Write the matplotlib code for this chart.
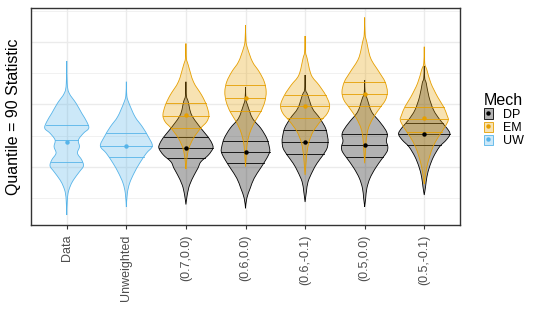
import numpy as np
import matplotlib.pyplot as plt
from matplotlib.patches import Patch, PathPatch
from matplotlib.path import Path
from matplotlib.lines import Line2D
from matplotlib.legend_handler import HandlerTuple
from matplotlib.colors import to_rgba
import matplotlib.transforms as mtransforms

plt.rcParams['font.family'] = ['Liberation Sans', 'DejaVu Sans']

categories = ['Data', 'Unweighted', '(0.7,0.0)', '(0.6,0.0)', '(0.6,-0.1)', '(0.5,0.0)', '(0.5,-0.1)']
mechs = ['DP', 'EM', 'UW']
mech_colors = {'DP': '#000000', 'EM': '#E69F00', 'UW': '#56B4E9'}

# violin outlines: y value, half width (category units), top to bottom
data_y = [1.348, 1.168, 1.092, 1.010, 0.930, 0.862, 0.810, 0.770, 0.716, 0.662, 0.610, 0.556, 0.508, 0.462, 0.396, 0.342, 0.290, 0.220, 0.116]
data_w = [0, 0.008, 0.039, 0.156, 0.252, 0.336, 0.369, 0.280, 0.196, 0.213, 0.180, 0.252, 0.280, 0.213, 0.112, 0.055, 0.022, 0.008, 0]
unw_y = [1.182, 1.070, 1.010, 0.902, 0.822, 0.742, 0.668, 0.610, 0.530, 0.450, 0.370, 0.290, 0.180]
unw_w = [0, 0.008, 0.045, 0.146, 0.268, 0.369, 0.436, 0.336, 0.223, 0.129, 0.055, 0.017, 0]

p70_em_y = [1.488, 1.370, 1.316, 1.182, 1.076, 0.996, 0.916, 0.862, 0.810, 0.730, 0.650, 0.570, 0.484]
p70_em_w = [0, 0.008, 0.039, 0.126, 0.263, 0.344, 0.386, 0.349, 0.247, 0.126, 0.050, 0.017, 0]
p70_dp_y = [1.182, 1.070, 1.022, 0.916, 0.810, 0.742, 0.690, 0.650, 0.596, 0.542, 0.490, 0.436, 0.356, 0.276, 0.200]
p70_dp_w = [0, 0.008, 0.039, 0.096, 0.252, 0.369, 0.436, 0.453, 0.378, 0.252, 0.201, 0.139, 0.062, 0.022, 0]

p60_em_y = [1.636, 1.510, 1.450, 1.342, 1.262, 1.182, 1.102, 1.022, 0.942, 0.862, 0.782, 0.702, 0.622, 0.502]
p60_em_w = [0, 0.008, 0.034, 0.117, 0.230, 0.315, 0.347, 0.324, 0.257, 0.156, 0.079, 0.034, 0.017, 0]
p60_dp_y = [1.140, 1.040, 0.996, 0.890, 0.810, 0.730, 0.662, 0.622, 0.570, 0.490, 0.410, 0.330, 0.250, 0.170]
p60_dp_w = [0, 0.008, 0.034, 0.117, 0.257, 0.357, 0.399, 0.406, 0.357, 0.252, 0.146, 0.079, 0.022, 0]

p61_em_y = [1.548, 1.420, 1.370, 1.236, 1.156, 1.076, 0.996, 0.930, 0.862, 0.782, 0.702, 0.622, 0.542, 0.436]
p61_em_w = [0, 0.008, 0.034, 0.104, 0.232, 0.344, 0.411, 0.374, 0.252, 0.134, 0.067, 0.034, 0.017, 0]
p61_dp_y = [1.236, 1.120, 1.076, 0.970, 0.890, 0.810, 0.742, 0.702, 0.650, 0.596, 0.530, 0.462, 0.382, 0.302, 0.220]
p61_dp_w = [0, 0.008, 0.045, 0.122, 0.247, 0.344, 0.378, 0.386, 0.369, 0.302, 0.201, 0.122, 0.050, 0.022, 0]

p50_em_y = [1.696, 1.560, 1.502, 1.370, 1.262, 1.182, 1.102, 1.036, 0.970, 0.890, 0.810, 0.730, 0.650, 0.530]
p50_em_w = [0, 0.008, 0.034, 0.101, 0.240, 0.341, 0.381, 0.349, 0.252, 0.139, 0.062, 0.029, 0.017, 0]
p50_dp_y = [1.196, 1.090, 1.050, 0.942, 0.862, 0.796, 0.756, 0.708, 0.662, 0.622, 0.570, 0.490, 0.410, 0.330, 0.250, 0.182]
p50_dp_w = [0, 0.008, 0.039, 0.117, 0.252, 0.352, 0.381, 0.364, 0.389, 0.374, 0.297, 0.180, 0.089, 0.037, 0.017, 0]

p51_em_y = [1.462, 1.330, 1.276, 1.170, 1.062, 0.982, 0.916, 0.876, 0.822, 0.742, 0.662, 0.582, 0.502, 0.422, 0.364]
p51_em_w = [0, 0.008, 0.045, 0.112, 0.223, 0.324, 0.381, 0.403, 0.349, 0.238, 0.148, 0.089, 0.045, 0.017, 0]
p51_dp_y = [1.308, 1.210, 1.170, 1.062, 0.956, 0.876, 0.810, 0.764, 0.716, 0.662, 0.582, 0.502, 0.422, 0.342, 0.276]
p51_dp_w = [0, 0.008, 0.034, 0.079, 0.156, 0.265, 0.381, 0.431, 0.369, 0.257, 0.156, 0.089, 0.045, 0.022, 0]

# quartile lines (75%, 50%, 25%)
data_q = [0.834, 0.716, 0.538]
unw_q = [0.770, 0.670, 0.582]
p70_em_q = [1.010, 0.910, 0.814]
p70_dp_q = [0.740, 0.654, 0.570]
p60_em_q = [1.156, 1.054, 0.948]
p60_dp_q = [0.710, 0.622, 0.534]
p61_em_q = [1.076, 0.990, 0.890]
p61_dp_q = [0.794, 0.702, 0.606]
p50_em_q = [1.178, 1.084, 0.988]
p50_dp_q = [0.766, 0.676, 0.582]
p51_em_q = [0.982, 0.884, 0.782]
p51_dp_q = [0.850, 0.764, 0.676]

means = {
    ('Data', 'UW'): 0.700, ('Unweighted', 'UW'): 0.670,
    ('(0.7,0.0)', 'DP'): 0.654, ('(0.7,0.0)', 'EM'): 0.916,
    ('(0.6,0.0)', 'DP'): 0.622, ('(0.6,0.0)', 'EM'): 1.054,
    ('(0.6,-0.1)', 'DP'): 0.702, ('(0.6,-0.1)', 'EM'): 0.990,
    ('(0.5,0.0)', 'DP'): 0.676, ('(0.5,0.0)', 'EM'): 1.084,
    ('(0.5,-0.1)', 'DP'): 0.764, ('(0.5,-0.1)', 'EM'): 0.888,
}

violins = [
    ('(0.7,0.0)', 'DP', p70_dp_y, p70_dp_w, p70_dp_q),
    ('(0.6,0.0)', 'DP', p60_dp_y, p60_dp_w, p60_dp_q),
    ('(0.6,-0.1)', 'DP', p61_dp_y, p61_dp_w, p61_dp_q),
    ('(0.5,0.0)', 'DP', p50_dp_y, p50_dp_w, p50_dp_q),
    ('(0.5,-0.1)', 'DP', p51_dp_y, p51_dp_w, p51_dp_q),
    ('(0.7,0.0)', 'EM', p70_em_y, p70_em_w, p70_em_q),
    ('(0.6,0.0)', 'EM', p60_em_y, p60_em_w, p60_em_q),
    ('(0.6,-0.1)', 'EM', p61_em_y, p61_em_w, p61_em_q),
    ('(0.5,0.0)', 'EM', p50_em_y, p50_em_w, p50_em_q),
    ('(0.5,-0.1)', 'EM', p51_em_y, p51_em_w, p51_em_q),
    ('Data', 'UW', data_y, data_w, data_q),
    ('Unweighted', 'UW', unw_y, unw_w, unw_q),
]


def bezier_side(pts):
    # smooth curve through the outline points (Catmull-Rom as cubic Bezier)
    n = len(pts)
    verts, codes = [], []
    for i in range(n - 1):
        p0 = pts[i - 1] if i > 0 else pts[i]
        p1, p2 = pts[i], pts[i + 1]
        p3 = pts[i + 2] if i + 2 < n else pts[i + 1]
        verts += [p1 + (p2 - p0) / 6, p2 - (p3 - p1) / 6, p2]
        codes += [Path.CURVE4] * 3
    return verts, codes


def violin_path(c, ys, ws):
    right = np.column_stack([c + ws, ys])
    left = np.column_stack([c - ws, ys])[::-1]
    v1, c1 = bezier_side(right)
    v2, c2 = bezier_side(left)
    verts = [right[0]] + v1 + [left[0]] + v2 + [right[0]]
    codes = [Path.MOVETO] + c1 + [Path.LINETO] + c2 + [Path.CLOSEPOLY]
    return Path(verts, codes)


fig = plt.figure(figsize=(5.39, 3.27), dpi=100)
ax = fig.add_axes([31/539, 1-225/327, 429/539, 217/327])

alpha = 0.3
for cat, mech, ys, ws, qs in violins:
    c = categories.index(cat)
    col = mech_colors[mech]
    ys = np.array(ys)
    ws = np.array(ws)
    ax.add_patch(PathPatch(violin_path(c, ys, ws), facecolor=to_rgba(col, alpha),
                           edgecolor=col, lw=0.6, zorder=2))
    for q in qs:
        hw = np.interp(q, ys[::-1], ws[::-1])
        ax.plot([c - hw, c + hw], [q, q], color=col, lw=0.6, zorder=2)

for (cat, mech), m in means.items():
    ax.plot(categories.index(cat), m, 'o', color=mech_colors[mech], ms=3.2, mec='none', zorder=3)

ax.set_xlim(-0.6, len(categories) - 0.4)
ax.set_ylim(0.036, 1.772)
ax.set_xticks(range(len(categories)))
ax.set_xticklabels(categories, rotation=90, fontsize=9, color='#4D4D4D')
offset = mtransforms.ScaledTranslation(3/100, 0, fig.dpi_scale_trans)
for lab in ax.get_xticklabels():
    lab.set_transform(lab.get_transform() + offset)
ax.set_yticks([0.5, 1.0, 1.5])
ax.set_yticks([0.25, 0.75, 1.25, 1.75], minor=True)
ax.set_yticklabels([])
ax.tick_params(axis='y', which='both', length=0)
ax.tick_params(axis='x', length=3, width=0.8, color='#333333', pad=4)
ax.grid(True, which='major', color='#EBEBEB', lw=1.0)
ax.grid(True, which='minor', axis='y', color='#EBEBEB', lw=0.5)
ax.set_axisbelow(True)
for sp in ax.spines.values():
    sp.set_color('#333333')
    sp.set_linewidth(1.0)

ax.set_ylabel('Quantile = 90 Statistic', fontsize=11.5)
ax.yaxis.set_label_coords(-0.024, 0.5)

handles = []
for mech in mechs:
    col = mech_colors[mech]
    box = Patch(facecolor=to_rgba(col, alpha), edgecolor=col, lw=0.6)
    dot = Line2D([], [], marker='o', ls='', color=col, ms=3.2, mec='none')
    handles.append((box, dot))
leg = fig.legend(handles, mechs, handler_map={tuple: HandlerTuple(ndivide=1)},
                 loc='upper left', bbox_to_anchor=(475/539, 1-84/327), frameon=False,
                 fontsize=9, title='Mech', title_fontsize=11.5, alignment='left',
                 handlelength=0.7, handleheight=0.9, labelspacing=0.05, handletextpad=0.8,
                 borderpad=0.2)

fig.savefig('out.png', dpi=100)
